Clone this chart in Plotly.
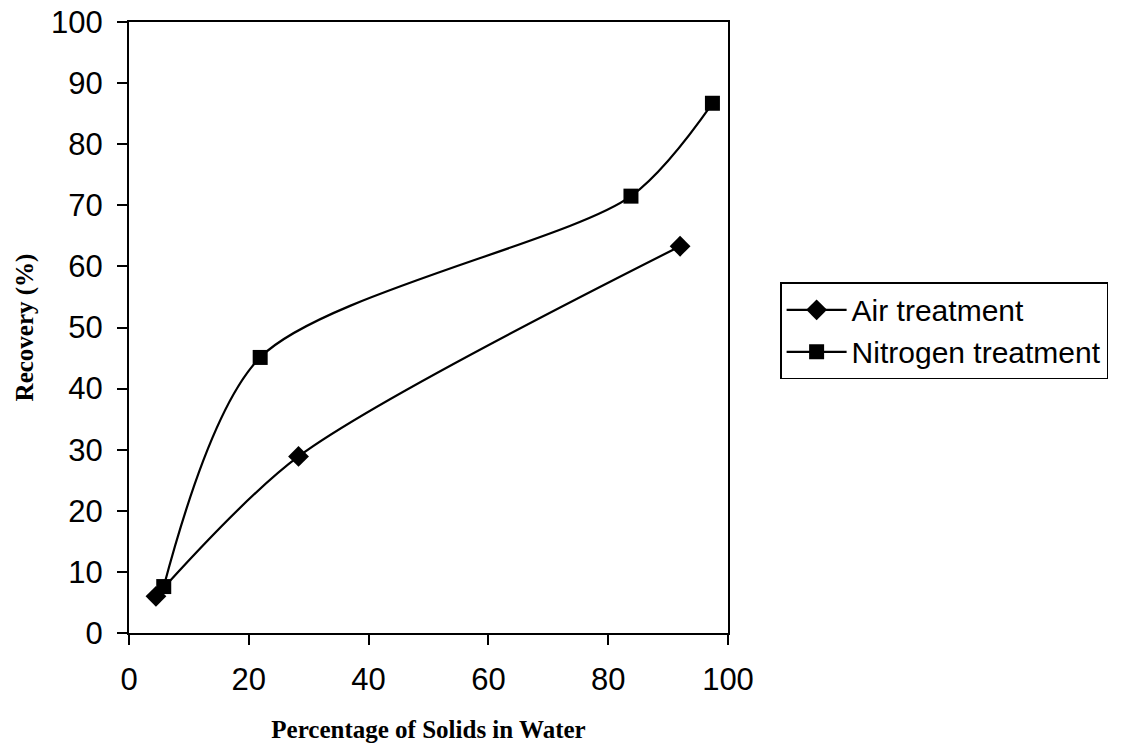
import plotly.graph_objects as go

# Recovery vs. solids content for the two treatments
air_x = [4.5, 28.3, 92.0]
air_y = [6.0, 28.9, 63.3]
nitrogen_x = [5.8, 21.9, 83.8, 97.4]
nitrogen_y = [7.6, 45.1, 71.5, 86.7]

x_ticks = [0, 20, 40, 60, 80, 100]
y_ticks = [0, 10, 20, 30, 40, 50, 60, 70, 80, 90, 100]

fig = go.Figure()
fig.add_trace(go.Scatter(
    x=air_x, y=air_y, name="Air treatment",
    mode="lines+markers",
    line=dict(color="black", width=2.2, shape="spline", smoothing=0.8),
    marker=dict(symbol="diamond", size=16, color="black"),
))
fig.add_trace(go.Scatter(
    x=nitrogen_x, y=nitrogen_y, name="Nitrogen treatment",
    mode="lines+markers",
    line=dict(color="black", width=2.2, shape="spline", smoothing=0.8),
    marker=dict(symbol="square", size=15, color="black"),
))

tick_font = dict(family="Liberation Sans, Arial", size=31, color="black")
title_font = dict(family="Liberation Serif, Times New Roman", size=25, color="black")

axis_common = dict(
    showgrid=False, zeroline=False, showline=True, linecolor="black",
    linewidth=2, mirror=True, ticks="outside", ticklen=10, tickwidth=1.5,
    tickcolor="black", tickfont=tick_font, automargin=False,
    ticklabelstandoff=8,
)

fig.update_xaxes(range=[0, 100], tickvals=x_ticks, **axis_common,
                 title=dict(text="<b>Percentage of Solids in Water</b>",
                            font=title_font, standoff=24))
fig.update_yaxes(range=[0, 100], tickvals=y_ticks, **axis_common,
                 title=dict(text="<b>Recovery (%)</b>",
                            font=title_font, standoff=10))

fig.update_layout(
    width=1133, height=750,
    margin=dict(l=129, r=405, t=22, b=117),
    paper_bgcolor="white", plot_bgcolor="white",
    legend=dict(x=1.087, y=0.574, xanchor="left", yanchor="top",
                bordercolor="black", borderwidth=1.5, bgcolor="white",
                font=dict(family="Liberation Sans, Arial", size=30, color="black"),
                tracegroupgap=0, itemwidth=60),
)

fig.write_html("out.html")
